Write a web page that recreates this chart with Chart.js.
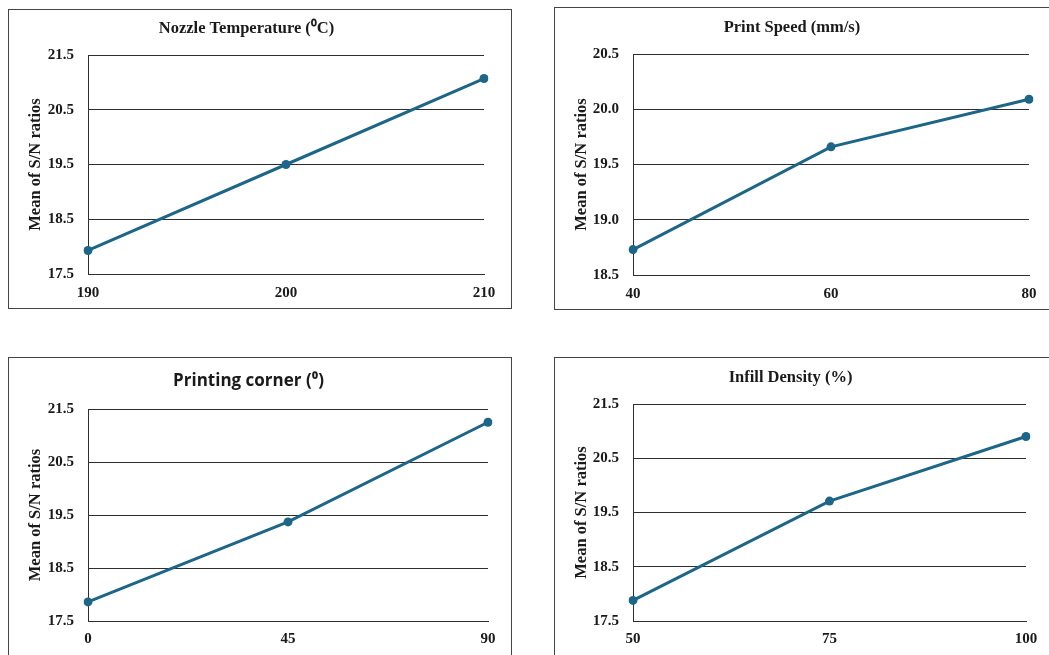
<!DOCTYPE html>
<html>
<head>
<meta charset="utf-8">
<script src="https://cdn.jsdelivr.net/npm/chart.js@4.4.1/dist/chart.umd.min.js"></script>
<style>
  html, body { margin: 0; padding: 0; background: #fff; overflow: hidden; }
  body { width: 1049px; height: 655px; position: relative; }
  .panel { position: absolute; box-sizing: border-box; border: 1px solid #444; background: #fff; }
  .panel canvas { position: absolute; left: 0; top: 0; }
</style>
</head>
<body>
<div class="panel" id="p1" style="left:8px;top:9px;width:504px;height:300px"><canvas id="c1" width="502" height="298"></canvas></div>
<div class="panel" id="p2" style="left:554px;top:7px;width:500px;height:303px"><canvas id="c2" width="498" height="301"></canvas></div>
<div class="panel" id="p3" style="left:8px;top:357px;width:504px;height:310px"><canvas id="c3" width="502" height="308"></canvas></div>
<div class="panel" id="p4" style="left:554px;top:357px;width:500px;height:310px"><canvas id="c4" width="498" height="308"></canvas></div>
<script>
// ── Datos ─────────────────────────────────────────────────────
const nozzleTemp   = ['190', '200', '210'];
const nozzleSN     = [17.93, 19.50, 21.07];
const nozzleTicks  = [17.5, 18.5, 19.5, 20.5, 21.5];

const printSpeed   = ['40', '60', '80'];
const speedSN      = [18.73, 19.66, 20.09];
const speedTicks   = [18.5, 19.0, 19.5, 20.0, 20.5];

const cornerAngle  = ['0', '45', '90'];
const cornerSN     = [17.86, 19.37, 21.25];
const cornerTicks  = [17.5, 18.5, 19.5, 20.5, 21.5];

const infillPct    = ['50', '75', '100'];
const infillSN     = [17.88, 19.71, 20.90];
const infillTicks  = [17.5, 18.5, 19.5, 20.5, 21.5];

const Y_TITLE    = 'Mean of S/N ratios';
const LINE_COLOR = '#1d6688';
const TEXT_COLOR = '#1a1a1a';
const GRID_COLOR = '#2e2e2e';
const SERIF      = "'Liberation Serif', 'Times New Roman', serif";

// ── Panel builder ─────────────────────────────────────────────
// g: yW = ancho eje Y, right = padding derecho, top = alto hasta el área,
//    xH = alto eje X, titleY = centro del título
function makePanel(canvasId, title, titleFont, labels, values, ticks, g) {
  const fs = titleFont.size;
  const lh = fs * 1.2;
  const padTop = g.titleY - lh / 2;
  const padBottom = g.top - padTop - lh;
  const step = ticks[1] - ticks[0];

  return new Chart(document.getElementById(canvasId), {
    type: 'line',
    data: {
      labels,
      datasets: [{
        data: values,
        borderColor: LINE_COLOR,
        backgroundColor: LINE_COLOR,
        borderWidth: 3,
        pointRadius: 4.5,
        pointBackgroundColor: LINE_COLOR,
        pointBorderWidth: 0,
        tension: 0,
        fill: false,
      }],
    },
    options: {
      responsive: false,
      animation: false,
      devicePixelRatio: 1,
      layout: { padding: { left: 0, right: g.right, top: 0, bottom: 0 } },
      plugins: {
        legend: { display: false },
        tooltip: { enabled: false },
        title: {
          display: true,
          text: title,
          color: TEXT_COLOR,
          font: { ...titleFont, lineHeight: 1.2 },
          padding: { top: padTop, bottom: padBottom },
        },
      },
      scales: {
        x: {
          type: 'category',
          offset: false,
          grid: { display: false, drawTicks: false },
          border: { display: true, color: GRID_COLOR, width: 1 },
          ticks: {
            color: TEXT_COLOR,
            padding: g.xPad,
            maxRotation: 0,
            font: { family: SERIF, size: 15, weight: 'bold' },
          },
          afterFit: s => { s.height = g.xH; },
        },
        y: {
          min: ticks[0],
          max: ticks[ticks.length - 1],
          afterBuildTicks: s => { s.ticks = ticks.map(v => ({ value: v })); },
          grid: { color: GRID_COLOR, lineWidth: 1, drawTicks: false },
          border: { display: true, color: GRID_COLOR, width: 1 },
          ticks: {
            stepSize: step,
            color: TEXT_COLOR,
            padding: 14,
            font: { family: SERIF, size: 15, weight: 'bold' },
            callback: v => Number(v).toFixed(1),
          },
          title: {
            display: true,
            text: Y_TITLE,
            color: TEXT_COLOR,
            font: { family: SERIF, size: 16.5, weight: 'bold', lineHeight: 1.2 },
            padding: { top: 17, bottom: 0 },
          },
          afterFit: s => { s.width = g.yW; },
        },
      },
    },
  });
}

const serifTitle = { family: SERIF, size: 16.5, weight: 'bold' };
const sansTitle  = { family: "'Open Sans', 'Noto Sans', sans-serif", size: 17, weight: 'bold' };

makePanel('c1', 'Nozzle Temperature (\u2070C)', serifTitle, nozzleTemp, nozzleSN, nozzleTicks,
  { yW: 79, right: 27, top: 45, xH: 34, titleY: 19, xPad: 10 });
makePanel('c2', 'Print Speed (mm/s)', serifTitle, printSpeed, speedSN, speedTicks,
  { yW: 78, right: 24, top: 46, xH: 34, titleY: 20, xPad: 10 });
makePanel('c3', 'Printing corner (\u2070)', sansTitle, cornerAngle, cornerSN, cornerTicks,
  { yW: 79, right: 23, top: 51, xH: 45, titleY: 23, xPad: 9 });
makePanel('c4', 'Infill Density (%)', serifTitle, infillPct, infillSN, infillTicks,
  { yW: 78, right: 27, top: 46, xH: 45, titleY: 20, xPad: 9 });
</script>
</body>
</html>
